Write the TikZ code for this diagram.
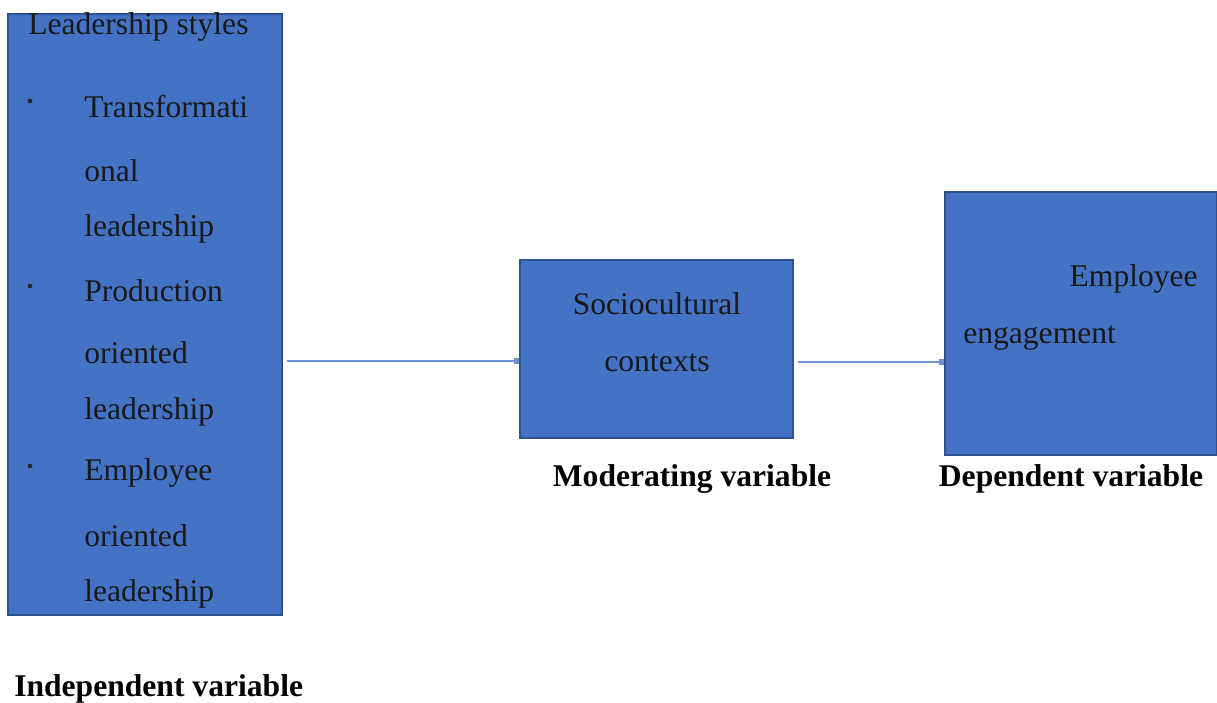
\documentclass[tikz,border=0pt]{standalone}
\usepackage{fontspec}
\setmainfont{Liberation Serif}
\usetikzlibrary{arrows.meta,fit,positioning}

\definecolor{boxfill}{HTML}{4472C4}
\definecolor{boxline}{HTML}{2F528F}
\definecolor{linkblue}{HTML}{7092D4}

\tikzset{
    varbox/.style={draw=boxline, fill=boxfill, line width=0.8pt, inner sep=0pt},
    boxtext/.style={text=black!90, inner sep=0pt, font=\fontsize{23.7}{28}\selectfont},
    vartitle/.style={inner sep=0pt, font=\fontsize{23.7}{28}\selectfont\bfseries},
    link/.style={draw=linkblue, line width=2.2pt, -{Square[length=4pt,width=5pt]}}
}

\begin{document}
\begin{tikzpicture}[x=0.75pt, y=-0.75pt]
            \useasboundingbox (0,0) rectangle (1217,703);
            % boxes
            \node[varbox, fit={(8,14) (282,615)}] (lead) {};
            \node[varbox, fit={(520,260) (793,438)}] (ctx) {};
            \node[varbox, fit={(945,192) (1217,455)}] (eng) {};

            % left box text
            \node[boxtext, anchor=west] (lt0) at (28,27) {Leadership styles};
            \node[boxtext, anchor=west] (lt1) at (84,107) {Transformati};
            \node[boxtext, anchor=west] (lt2) at (84,171) {onal};
            \node[boxtext, anchor=west] (lt3) at (84,229) {leadership};
            \node[boxtext, anchor=west] (lt4) at (84,291) {Production};
            \node[boxtext, anchor=west] (lt5) at (84,353) {oriented};
            \node[boxtext, anchor=west] (lt6) at (84,412) {leadership};
            \node[boxtext, anchor=west] (lt7) at (84,473) {Employee};
            \node[boxtext, anchor=west] (lt8) at (84,536) {oriented};
            \node[boxtext, anchor=west] (lt9) at (84,594) {leadership};
            \foreach \y in {101,286,466}
                \fill[black!85] (30,\y) circle (1.8pt);

            % middle and right box text
            \node[boxtext] (ct1) at (657,304) {Sociocultural};
            \node[boxtext] (ct2) at (657,363) {contexts};
            \node[boxtext, anchor=east] (en1) at (1198,279) {Employee};
            \node[boxtext, anchor=west] (en2) at (963,338) {engagement};

            % variable labels
            \node[vartitle, anchor=west] (indep) at (14,689) {Independent variable};
            \node[vartitle] (moder) at (692,479) {Moderating variable};
            \node[vartitle] (depen) at (1071,479) {Dependent variable};

            % connectors
            \coordinate (a1) at (400,361);
            \coordinate (a2) at (870,362);
            \draw[link, shorten <=3pt] (lead.east |- a1) -- (ctx.west |- a1);
            \draw[link, shorten <=3pt] (ctx.east |- a2) -- (eng.west |- a2);
\end{tikzpicture}
\end{document}
